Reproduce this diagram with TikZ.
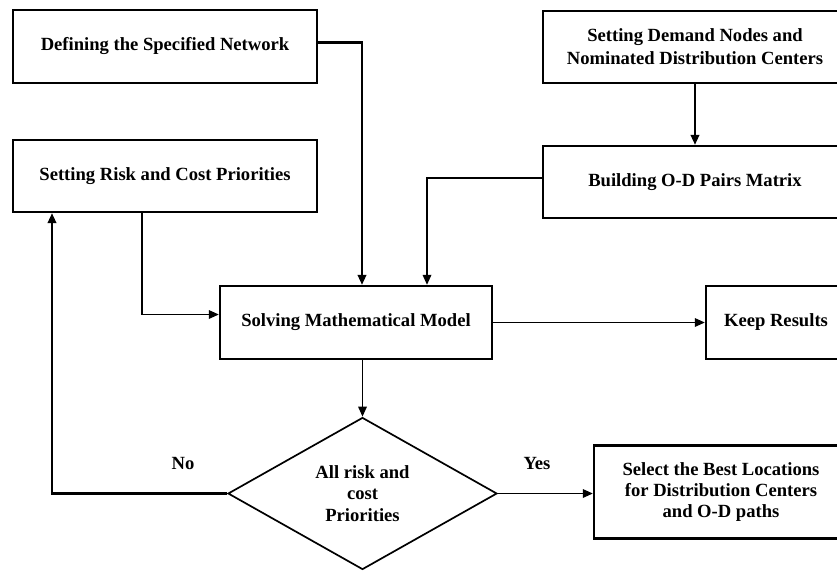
\documentclass[tikz,border=0pt]{standalone}
\usepackage{fontspec}
\setmainfont{Liberation Serif}
\usetikzlibrary{shapes.geometric,arrows.meta}

\tikzset{
  box/.style={draw, line width=2.3pt, align=center, inner sep=2pt,
    font=\fontsize{18.6}{21}\selectfont\bfseries},
  decision/.style={diamond, draw, line width=1.7pt, align=center, inner sep=0pt,
    aspect=1.76, font=\fontsize{18.6}{21.5}\selectfont\bfseries},
  answer/.style={font=\fontsize{18.6}{21}\selectfont\bfseries},
  flow/.style={->, line width=2.2pt},
  thinflow/.style={->, line width=1.7pt},
}

\begin{document}
\begin{tikzpicture}[x=1pt, y=-1pt, >={Triangle[length=10pt,width=8.5pt]}]
  % Page
  \fill[white] (0,0) rectangle (837,571);
  \clip (0,0) rectangle (837,571);

  % Left column
  \node[box, minimum width=304pt, minimum height=73pt] (define) at (165,46.5) {Defining the Specified Network};
  \node[box, minimum width=304pt, minimum height=72pt] (prior) at (165,176) {Setting Risk and Cost Priorities};

  % Right column
  \node[box, minimum width=304pt, minimum height=72pt, font=\fontsize{18.6}{23}\selectfont\bfseries] (demand) at (695,47)
    {Setting Demand Nodes and\\Nominated Distribution Centers};
  \node[box, minimum width=304pt, minimum height=72pt] (odmat) at (695,182) {Building O-D Pairs Matrix};

  % Model and results
  \node[box, minimum width=272pt, minimum height=73pt] (model) at (356,322.5) {Solving Mathematical Model};
  \node[box, minimum width=140pt, minimum height=73pt] (keep) at (776,322.5) {Keep Results};

  % Decision
  \node[decision, minimum width=269pt, minimum height=152pt] (check) at (362.5,493.5) {All risk and\\cost\\Priorities};
  \node[box, minimum width=254pt, minimum height=93pt] (select) at (721,492)
    {Select the Best Locations\\for Distribution Centers\\and O-D paths};

  % Answers
  \node[answer] (no) at (183,463) {No};
  \node[answer] (yes) at (537,463) {Yes};

  % Connectors
  \draw[flow] ([yshift=4pt]define.east) -| ([xshift=6pt]model.north);
  \draw[flow] (demand.south) -- (odmat.north);
  \draw[thinflow] ([yshift=4pt]odmat.west) -| ([xshift=71pt]model.north);
  \draw[thinflow] ([xshift=-23pt]prior.south) |- ([yshift=8pt]model.west);
  \draw[thinflow] (check.north |- model.south) -- (check.north);
  \draw[thinflow] (model.east) -- (keep.west);
  \draw[flow] (check.west) -| ([xshift=-113pt]prior.south);
  \draw[thinflow] (check.east) -- (check.east -| select.west);
\end{tikzpicture}
\end{document}
